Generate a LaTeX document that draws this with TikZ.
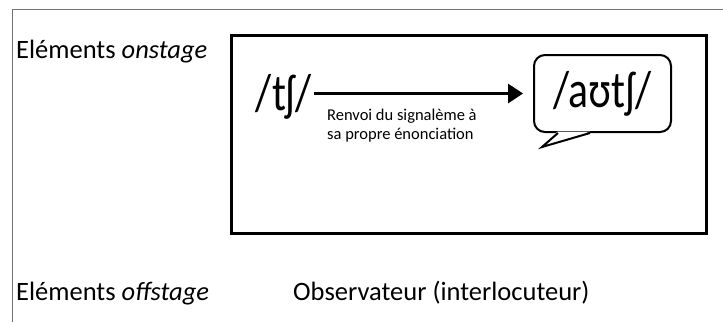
\documentclass[tikz,border=0pt]{standalone}
\usepackage{fontspec}
\setmainfont{Carlito}
\newfontfamily\ipafont{Carlito}[FakeStretch=0.8]
\usetikzlibrary{arrows.meta}
\begin{document}
\begin{tikzpicture}[x=1pt,y=-1pt,
  frame/.style={draw=black!55, line width=1pt},
  stagebox/.style={draw=black, line width=3pt, minimum width=475pt, minimum height=198pt, inner sep=0pt},
  lbl/.style={font=\fontsize{26.5}{31}\selectfont, inner sep=0pt, anchor=base west},
  ipa/.style={font=\ipafont\fontsize{52}{60}\selectfont, inner sep=0pt},
  bubblebox/.style={draw=black, line width=2pt, rounded corners=11pt, minimum width=137pt, minimum height=77pt, inner sep=0pt},
  small/.style={font=\fontsize{16.5}{16.5}\selectfont, inner sep=0pt, align=left, anchor=north west},
  arr/.style={line width=3pt, -{Triangle[length=15pt,width=19pt]}},
  tail/.style={draw=black, line width=2pt, line join=miter}
]
\useasboundingbox (0,0) rectangle (723,322);
\coordinate (fl) at (12,322);
\coordinate (fc) at (12,9);
\coordinate (fr) at (723,9);
\draw[frame] (fl) -- (fc) -- (fr);

\node[stagebox] (stage) at (468.5,134) {};

\node[lbl] (on) at (16,58) {Eléments \textit{onstage}};
\node[lbl] (off) at (16,300) {Eléments \textit{offstage}};
\node[lbl] (obs) at (293,300) {Observateur (interlocuteur)};

\node[ipa] (tsh) at (284,97) {/tʃ/};
\node[bubblebox, ipa] (bubble) at (602.5,93.5) {/aʊtʃ/};

\coordinate (tip) at (542,147);
\fill[white] ([xshift=-45pt,yshift=1.5pt]bubble.south) -- (tip) -- ([xshift=-12pt,yshift=1.5pt]bubble.south) -- cycle;
\draw[tail] ([xshift=-44.5pt]bubble.south) -- (tip) -- ([xshift=-12.5pt]bubble.south);

\draw[arr, shorten <=2pt, shorten >=10pt] (tsh.east |- bubble.west) -- (bubble.west);

\node[small] (lab) at (327,109) {Renvoi du signalème à\\[2pt]sa propre énonciation};
\end{tikzpicture}
\end{document}
